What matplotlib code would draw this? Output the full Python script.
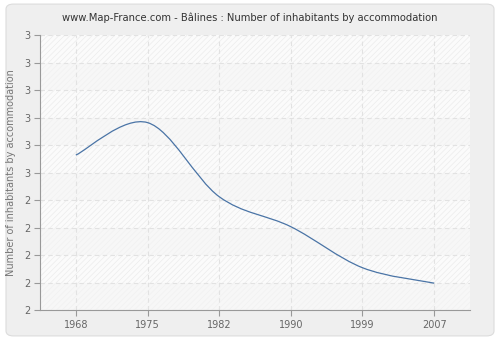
import numpy as np
import matplotlib
matplotlib.use("Agg")
import matplotlib.pyplot as plt
from matplotlib.path import Path
from matplotlib.patches import PathPatch, FancyBboxPatch

years = ['1968', '1975', '1982', '1990', '1999', '2007']
values = [2.564, 2.682, 2.413, 2.304, 2.155, 2.099]
y_ticks = [2.0, 2.1, 2.2, 2.3, 2.4, 2.5, 2.6, 2.7, 2.8, 2.9, 3.0]
y_labels = ['2', '2', '2', '2', '2', '3', '3', '3', '3', '3', '3']

title = 'www.Map-France.com - Bâlines : Number of inhabitants by accommodation'
ylabel = 'Number of inhabitants by accommodation'

plt.rcParams['font.family'] = ['DejaVu Sans']
plt.rcParams['hatch.linewidth'] = 0.5

fig = plt.figure(figsize=(5, 3.4), dpi=100)
fig.patch.set_facecolor('white')
panel = FancyBboxPatch((0.012, 0.012), 0.976, 0.976, boxstyle='round,pad=0,rounding_size=0.015',
                       transform=fig.transFigure, facecolor='#efefef', edgecolor='#dcdcdc',
                       linewidth=0.8, zorder=-10)
fig.patches.append(panel)

ax = fig.add_axes([0.08, 0.087, 0.86, 0.81])
ax.set_facecolor('#fbfbfb')

x = np.arange(len(years))
ax.set_xlim(-0.5, len(years) - 0.5)
ax.set_ylim(2.0, 3.0)

# alternating bands, hatched ones
for i in range(len(y_ticks) - 1):
    if i % 2 == 1:
        ax.axhspan(y_ticks[i], y_ticks[i + 1], facecolor='#fbfbfb', edgecolor='#ececec',
                   hatch='//////', linewidth=0, zorder=0)
    else:
        ax.axhspan(y_ticks[i], y_ticks[i + 1], facecolor='#f7f7f7', edgecolor='#f1f1f1',
                   hatch='//////', linewidth=0, zorder=0)

# smooth curve (Catmull-Rom as cubic bezier)
pts = list(zip(x, values))
verts = [pts[0]]
codes = [Path.MOVETO]
n = len(pts)
for i in range(n - 1):
    p0 = pts[i - 1] if i > 0 else pts[i]
    p1 = pts[i]
    p2 = pts[i + 1]
    p3 = pts[i + 2] if i + 2 < n else pts[i + 1]
    c1 = (p1[0] + (p2[0] - p0[0]) / 6, p1[1] + (p2[1] - p0[1]) / 6)
    c2 = (p2[0] - (p3[0] - p1[0]) / 6, p2[1] - (p3[1] - p1[1]) / 6)
    verts += [c1, c2, p2]
    codes += [Path.CURVE4, Path.CURVE4, Path.CURVE4]
ax.add_patch(PathPatch(Path(verts, codes), facecolor='none', edgecolor='#4a74a6',
                       linewidth=0.9, zorder=3))

ax.set_xticks(x)
ax.set_xticklabels(years)
ax.set_yticks(y_ticks)
ax.set_yticklabels(y_labels)
ax.grid(True, color='#e2e2e2', linestyle=(0, (4, 3)), linewidth=0.8, zorder=1)
ax.set_axisbelow(True)

for side in ['top', 'right']:
    ax.spines[side].set_visible(False)
for side in ['left', 'bottom']:
    ax.spines[side].set_color('#999999')
    ax.spines[side].set_linewidth(0.8)
ax.tick_params(colors='#999999', length=4, width=0.8, labelsize=7, labelcolor='#666666', pad=3)

ax.set_ylabel(ylabel, fontsize=7, color='#777777', labelpad=6)
fig.text(0.5, 0.948, title, ha='center', va='center', fontsize=7.2, color='#333333')

fig.savefig('out.png', dpi=100, facecolor=fig.get_facecolor())
